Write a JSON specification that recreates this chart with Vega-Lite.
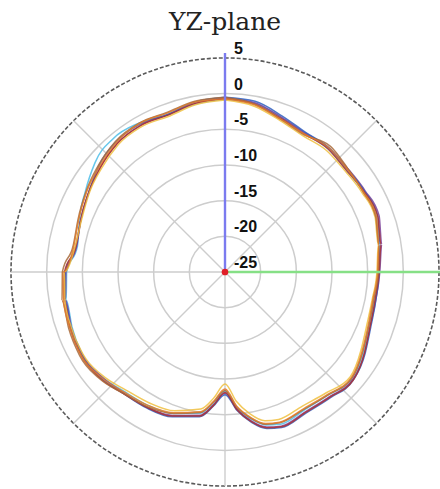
{
  "$schema": "https://vega.github.io/schema/vega-lite/v6.json",
  "width": 428,
  "height": 428,
  "autosize": {"type": "none"},
  "padding": {"left": 11, "top": 58, "right": 1, "bottom": 3},
  "background": "white",
  "config": {"view": {"stroke": null}},
  "title": {"text": "YZ-plane", "font": "DejaVu Serif", "fontSize": 25, "fontWeight": "normal", "color": "#222222", "anchor": "middle", "frame": "group", "baseline": "alphabetic", "offset": -14},
  "layer": [
    {
      "data": {"values": [{"v": -20}, {"v": -15}, {"v": -10}, {"v": -5}, {"v": 0}]},
      "transform": [{"calculate": "pow(datum.v + 25, 2)", "as": "r2"}, {"calculate": "0", "as": "o"}],
      "mark": {"type": "point", "shape": "circle", "filled": false, "stroke": "#cdcdcd", "strokeWidth": 1.5, "opacity": 1},
      "encoding": {
        "x": {"field": "o", "type": "quantitative", "scale": {"domain": [-30, 30], "nice": false, "zero": false}, "axis": null},
        "y": {"field": "o", "type": "quantitative", "scale": {"domain": [-30, 30], "nice": false, "zero": false}, "axis": null},
        "size": {"field": "r2", "type": "quantitative", "scale": {"type": "linear", "domain": [0, 900], "range": [0, 183184], "zero": true, "nice": false}, "legend": null}
      }
    },
    {
      "data": {"values": [{"v": 5}]},
      "transform": [{"calculate": "pow(datum.v + 25, 2)", "as": "r2"}, {"calculate": "0", "as": "o"}],
      "mark": {"type": "point", "shape": "circle", "filled": false, "stroke": "#5a5a5a", "strokeWidth": 1.6, "strokeDash": [4, 2], "opacity": 1},
      "encoding": {
        "x": {"field": "o", "type": "quantitative"},
        "y": {"field": "o", "type": "quantitative"},
        "size": {"field": "r2", "type": "quantitative", "scale": {"type": "linear", "domain": [0, 900], "range": [0, 183184], "zero": true, "nice": false}, "legend": null}
      }
    },
    {
      "data": {"values": [{"a": 0}, {"a": 45}, {"a": 90}, {"a": 135}, {"a": 180}, {"a": 225}, {"a": 270}, {"a": 315}]},
      "transform": [
        {"calculate": "0", "as": "o"},
        {"calculate": "30 * sin(datum.a * PI / 180)", "as": "ex"},
        {"calculate": "30 * cos(datum.a * PI / 180)", "as": "ey"}
      ],
      "mark": {"type": "rule", "stroke": "#cdcdcd", "strokeWidth": 1.4},
      "encoding": {
        "x": {"field": "o", "type": "quantitative"},
        "y": {"field": "o", "type": "quantitative"},
        "x2": {"field": "ex"},
        "y2": {"field": "ey"}
      }
    },
    {
      "data": {"values": [
        {"s":"F","a":0,"g":-0.8},{"s":"F","a":10,"g":-1.0},{"s":"F","a":20,"g":-2.0},{"s":"F","a":30,"g":-2.6},{"s":"F","a":40,"g":-2.5},{"s":"F","a":50,"g":-2.8},{"s":"F","a":60,"g":-2.6},{"s":"F","a":70,"g":-2.4},{"s":"F","a":80,"g":-3.0},{"s":"F","a":90,"g":-3.5},{"s":"F","a":100,"g":-3.7},{"s":"F","a":110,"g":-3.5},{"s":"F","a":120,"g":-2.6},{"s":"F","a":130,"g":-1.8},{"s":"F","a":140,"g":-2.5},{"s":"F","a":150,"g":-2.7},{"s":"F","a":160,"g":-2.3},{"s":"F","a":165,"g":-2.8},{"s":"F","a":170,"g":-4.1},{"s":"F","a":175,"g":-5.9},{"s":"F","a":180,"g":-8.3},{"s":"F","a":185,"g":-6.6},{"s":"F","a":190,"g":-4.9},{"s":"F","a":200,"g":-3.9},{"s":"F","a":210,"g":-3.4},{"s":"F","a":220,"g":-3.1},{"s":"F","a":230,"g":-2.3},{"s":"F","a":240,"g":-1.9},{"s":"F","a":250,"g":-2.2},{"s":"F","a":260,"g":-2.4},{"s":"F","a":270,"g":-2.8},{"s":"F","a":280,"g":-4.0},{"s":"F","a":290,"g":-3.3},{"s":"F","a":300,"g":-2.4},{"s":"F","a":310,"g":-1.2},{"s":"F","a":320,"g":-0.6},{"s":"F","a":330,"g":-0.9},{"s":"F","a":340,"g":-1.5},{"s":"F","a":350,"g":-1.1},{"s":"F","a":360,"g":-0.8},
        {"s":"D","a":0,"g":-0.6},{"s":"D","a":10,"g":-0.9},{"s":"D","a":20,"g":-1.9},{"s":"D","a":30,"g":-2.5},{"s":"D","a":40,"g":-2.3},{"s":"D","a":50,"g":-2.5},{"s":"D","a":60,"g":-2.3},{"s":"D","a":70,"g":-2.0},{"s":"D","a":80,"g":-2.7},{"s":"D","a":90,"g":-3.3},{"s":"D","a":100,"g":-3.5},{"s":"D","a":110,"g":-3.3},{"s":"D","a":120,"g":-2.4},{"s":"D","a":130,"g":-1.6},{"s":"D","a":140,"g":-2.2},{"s":"D","a":150,"g":-2.4},{"s":"D","a":160,"g":-2.0},{"s":"D","a":165,"g":-2.5},{"s":"D","a":170,"g":-3.8},{"s":"D","a":175,"g":-5.7},{"s":"D","a":180,"g":-8.0},{"s":"D","a":185,"g":-6.3},{"s":"D","a":190,"g":-4.6},{"s":"D","a":200,"g":-3.6},{"s":"D","a":210,"g":-3.1},{"s":"D","a":220,"g":-2.9},{"s":"D","a":230,"g":-2.3},{"s":"D","a":240,"g":-1.9},{"s":"D","a":250,"g":-2.1},{"s":"D","a":260,"g":-2.3},{"s":"D","a":270,"g":-2.7},{"s":"D","a":280,"g":-3.9},{"s":"D","a":290,"g":-3.5},{"s":"D","a":300,"g":-2.9},{"s":"D","a":310,"g":-2.2},{"s":"D","a":320,"g":-1.5},{"s":"D","a":330,"g":-1.3},{"s":"D","a":340,"g":-1.6},{"s":"D","a":350,"g":-1.0},{"s":"D","a":360,"g":-0.6},
        {"s":"A","a":0,"g":-0.5},{"s":"A","a":10,"g":-0.7},{"s":"A","a":20,"g":-1.7},{"s":"A","a":30,"g":-2.4},{"s":"A","a":40,"g":-2.3},{"s":"A","a":50,"g":-2.6},{"s":"A","a":60,"g":-2.4},{"s":"A","a":70,"g":-2.2},{"s":"A","a":80,"g":-2.9},{"s":"A","a":90,"g":-3.4},{"s":"A","a":100,"g":-3.5},{"s":"A","a":110,"g":-3.2},{"s":"A","a":120,"g":-2.3},{"s":"A","a":130,"g":-1.5},{"s":"A","a":140,"g":-2.0},{"s":"A","a":150,"g":-2.2},{"s":"A","a":160,"g":-1.8},{"s":"A","a":165,"g":-2.3},{"s":"A","a":170,"g":-3.6},{"s":"A","a":175,"g":-5.5},{"s":"A","a":180,"g":-7.8},{"s":"A","a":185,"g":-6.1},{"s":"A","a":190,"g":-4.4},{"s":"A","a":200,"g":-3.4},{"s":"A","a":210,"g":-3.0},{"s":"A","a":220,"g":-2.8},{"s":"A","a":230,"g":-2.1},{"s":"A","a":240,"g":-1.8},{"s":"A","a":250,"g":-2.0},{"s":"A","a":260,"g":-2.2},{"s":"A","a":270,"g":-2.6},{"s":"A","a":280,"g":-3.8},{"s":"A","a":290,"g":-3.5},{"s":"A","a":300,"g":-2.9},{"s":"A","a":310,"g":-1.9},{"s":"A","a":320,"g":-1.2},{"s":"A","a":330,"g":-1.1},{"s":"A","a":340,"g":-1.5},{"s":"A","a":350,"g":-0.8},{"s":"A","a":360,"g":-0.5},
        {"s":"E","a":0,"g":-0.7},{"s":"E","a":10,"g":-1.1},{"s":"E","a":20,"g":-2.1},{"s":"E","a":30,"g":-2.7},{"s":"E","a":40,"g":-2.5},{"s":"E","a":50,"g":-2.8},{"s":"E","a":60,"g":-2.5},{"s":"E","a":70,"g":-2.2},{"s":"E","a":80,"g":-2.8},{"s":"E","a":90,"g":-3.4},{"s":"E","a":100,"g":-3.6},{"s":"E","a":110,"g":-3.3},{"s":"E","a":120,"g":-2.4},{"s":"E","a":130,"g":-1.5},{"s":"E","a":140,"g":-2.1},{"s":"E","a":150,"g":-2.3},{"s":"E","a":160,"g":-1.9},{"s":"E","a":165,"g":-2.4},{"s":"E","a":170,"g":-3.7},{"s":"E","a":175,"g":-5.6},{"s":"E","a":180,"g":-8.1},{"s":"E","a":185,"g":-6.2},{"s":"E","a":190,"g":-4.5},{"s":"E","a":200,"g":-3.5},{"s":"E","a":210,"g":-3.1},{"s":"E","a":220,"g":-2.8},{"s":"E","a":230,"g":-2.0},{"s":"E","a":240,"g":-1.7},{"s":"E","a":250,"g":-1.9},{"s":"E","a":260,"g":-2.1},{"s":"E","a":270,"g":-2.5},{"s":"E","a":280,"g":-3.8},{"s":"E","a":290,"g":-3.5},{"s":"E","a":300,"g":-2.9},{"s":"E","a":310,"g":-2.2},{"s":"E","a":320,"g":-1.5},{"s":"E","a":330,"g":-1.3},{"s":"E","a":340,"g":-1.6},{"s":"E","a":350,"g":-1.0},{"s":"E","a":360,"g":-0.7},
        {"s":"C","a":0,"g":-0.9},{"s":"C","a":10,"g":-1.4},{"s":"C","a":20,"g":-2.4},{"s":"C","a":30,"g":-3.0},{"s":"C","a":40,"g":-2.8},{"s":"C","a":50,"g":-3.0},{"s":"C","a":60,"g":-2.8},{"s":"C","a":70,"g":-2.6},{"s":"C","a":80,"g":-3.2},{"s":"C","a":90,"g":-3.7},{"s":"C","a":100,"g":-4.0},{"s":"C","a":110,"g":-3.8},{"s":"C","a":120,"g":-3.0},{"s":"C","a":130,"g":-2.1},{"s":"C","a":140,"g":-2.9},{"s":"C","a":150,"g":-3.3},{"s":"C","a":160,"g":-3.0},{"s":"C","a":165,"g":-3.4},{"s":"C","a":170,"g":-4.8},{"s":"C","a":175,"g":-6.8},{"s":"C","a":180,"g":-9.3},{"s":"C","a":185,"g":-7.3},{"s":"C","a":190,"g":-5.5},{"s":"C","a":200,"g":-4.3},{"s":"C","a":210,"g":-3.8},{"s":"C","a":220,"g":-3.4},{"s":"C","a":230,"g":-2.5},{"s":"C","a":240,"g":-2.0},{"s":"C","a":250,"g":-2.1},{"s":"C","a":260,"g":-2.2},{"s":"C","a":270,"g":-2.5},{"s":"C","a":280,"g":-3.7},{"s":"C","a":290,"g":-3.6},{"s":"C","a":300,"g":-3.0},{"s":"C","a":310,"g":-2.4},{"s":"C","a":320,"g":-1.7},{"s":"C","a":330,"g":-1.5},{"s":"C","a":340,"g":-1.8},{"s":"C","a":350,"g":-1.2},{"s":"C","a":360,"g":-0.9},
        {"s":"G","a":0,"g":-0.5},{"s":"G","a":10,"g":-1.1},{"s":"G","a":20,"g":-2.2},{"s":"G","a":30,"g":-2.8},{"s":"G","a":40,"g":-2.0},{"s":"G","a":50,"g":-2.5},{"s":"G","a":60,"g":-2.6},{"s":"G","a":70,"g":-2.5},{"s":"G","a":80,"g":-3.1},{"s":"G","a":90,"g":-3.5},{"s":"G","a":100,"g":-3.8},{"s":"G","a":110,"g":-3.5},{"s":"G","a":120,"g":-2.7},{"s":"G","a":130,"g":-1.8},{"s":"G","a":140,"g":-2.5},{"s":"G","a":150,"g":-2.8},{"s":"G","a":160,"g":-2.5},{"s":"G","a":165,"g":-2.9},{"s":"G","a":170,"g":-4.2},{"s":"G","a":175,"g":-6.0},{"s":"G","a":180,"g":-8.4},{"s":"G","a":185,"g":-6.7},{"s":"G","a":190,"g":-5.0},{"s":"G","a":200,"g":-3.9},{"s":"G","a":210,"g":-3.2},{"s":"G","a":220,"g":-2.8},{"s":"G","a":230,"g":-1.9},{"s":"G","a":240,"g":-1.5},{"s":"G","a":250,"g":-1.7},{"s":"G","a":260,"g":-1.8},{"s":"G","a":270,"g":-2.2},{"s":"G","a":280,"g":-3.4},{"s":"G","a":290,"g":-3.1},{"s":"G","a":300,"g":-2.5},{"s":"G","a":310,"g":-1.8},{"s":"G","a":320,"g":-1.1},{"s":"G","a":330,"g":-0.9},{"s":"G","a":340,"g":-1.2},{"s":"G","a":350,"g":-0.7},{"s":"G","a":360,"g":-0.5},
        {"s":"B","a":0,"g":-0.7},{"s":"B","a":10,"g":-1.2},{"s":"B","a":20,"g":-2.2},{"s":"B","a":30,"g":-2.7},{"s":"B","a":40,"g":-2.3},{"s":"B","a":50,"g":-2.6},{"s":"B","a":60,"g":-2.6},{"s":"B","a":70,"g":-2.4},{"s":"B","a":80,"g":-3.1},{"s":"B","a":90,"g":-3.6},{"s":"B","a":100,"g":-3.9},{"s":"B","a":110,"g":-3.6},{"s":"B","a":120,"g":-2.8},{"s":"B","a":130,"g":-1.9},{"s":"B","a":140,"g":-2.6},{"s":"B","a":150,"g":-2.9},{"s":"B","a":160,"g":-2.6},{"s":"B","a":165,"g":-3.0},{"s":"B","a":170,"g":-4.3},{"s":"B","a":175,"g":-6.1},{"s":"B","a":180,"g":-8.6},{"s":"B","a":185,"g":-6.8},{"s":"B","a":190,"g":-5.1},{"s":"B","a":200,"g":-4.0},{"s":"B","a":210,"g":-3.4},{"s":"B","a":220,"g":-3.0},{"s":"B","a":230,"g":-2.2},{"s":"B","a":240,"g":-1.7},{"s":"B","a":250,"g":-1.9},{"s":"B","a":260,"g":-2.0},{"s":"B","a":270,"g":-2.3},{"s":"B","a":280,"g":-3.5},{"s":"B","a":290,"g":-3.2},{"s":"B","a":300,"g":-2.6},{"s":"B","a":310,"g":-2.0},{"s":"B","a":320,"g":-1.3},{"s":"B","a":330,"g":-1.0},{"s":"B","a":340,"g":-1.3},{"s":"B","a":350,"g":-0.8},{"s":"B","a":360,"g":-0.7}
      ]},
      "transform": [
        {"calculate": "datum.g + 25", "as": "r"},
        {"calculate": "datum.r * sin(datum.a * PI / 180)", "as": "px"},
        {"calculate": "datum.r * cos(datum.a * PI / 180)", "as": "py"}
      ],
      "mark": {"type": "line", "strokeWidth": 1.5, "opacity": 0.85, "interpolate": "monotone"},
      "encoding": {
        "x": {"field": "px", "type": "quantitative"},
        "y": {"field": "py", "type": "quantitative"},
        "color": {"field": "s", "type": "nominal", "scale": {"domain": ["A", "B", "C", "D", "E", "F", "G"], "range": ["#2f5fbf", "#e07b2a", "#f0c040", "#7b3f98", "#b03030", "#4cbde8", "#a86a3a"]}, "legend": null},
        "order": {"field": "a", "type": "quantitative"}
      }
    },
    {
      "data": {"values": [{"axis": "Z"}, {"axis": "Y"}]},
      "transform": [
        {"calculate": "0", "as": "o"},
        {"calculate": "datum.axis == 'Z' ? 0 : 30.2", "as": "ex"},
        {"calculate": "datum.axis == 'Z' ? 30.7 : 0", "as": "ey"}
      ],
      "mark": {"type": "rule", "strokeWidth": 2.4},
      "encoding": {
        "x": {"field": "o", "type": "quantitative"},
        "y": {"field": "o", "type": "quantitative"},
        "x2": {"field": "ex"},
        "y2": {"field": "ey"},
        "stroke": {"field": "axis", "type": "nominal", "scale": {"domain": ["Z", "Y"], "range": ["#7b7bef", "#86e086"]}, "legend": null}
      }
    },
    {
      "data": {"values": [{"p": "origin"}]},
      "transform": [{"calculate": "0", "as": "o"}],
      "mark": {"type": "point", "filled": true, "color": "#e01e28", "size": 45, "opacity": 1},
      "encoding": {
        "x": {"field": "o", "type": "quantitative"},
        "y": {"field": "o", "type": "quantitative"}
      }
    },
    {
      "data": {"values": [{"v": 5}, {"v": 0}, {"v": -5}, {"v": -10}, {"v": -15}, {"v": -20}, {"v": -25}]},
      "transform": [{"calculate": "datum.v + 25", "as": "r"}, {"calculate": "0", "as": "o"}],
      "mark": {"type": "text", "align": "left", "baseline": "alphabetic", "dx": 9, "dy": -4, "font": "Liberation Sans", "fontWeight": "bold", "fontSize": 16, "color": "#111111"},
      "encoding": {
        "x": {"field": "o", "type": "quantitative"},
        "y": {"field": "r", "type": "quantitative"},
        "text": {"field": "v", "type": "nominal"}
      }
    }
  ]
}
